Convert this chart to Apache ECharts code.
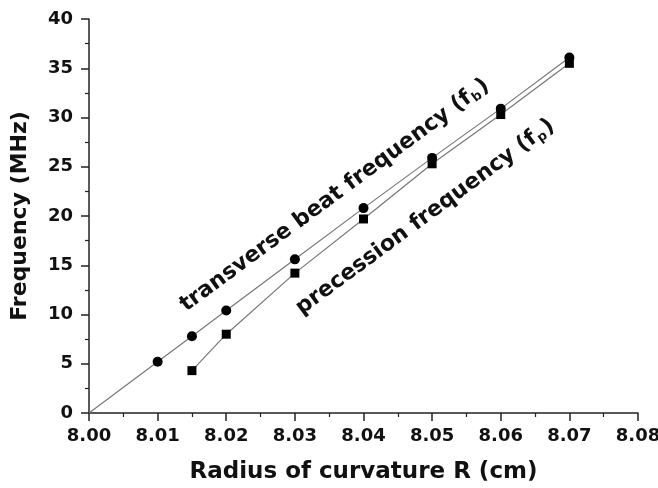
<!DOCTYPE html>
<html>
<head>
<meta charset="utf-8">
<script src="https://cdn.jsdelivr.net/npm/echarts@6/dist/echarts.min.js"></script>
<style>
  html, body { margin: 0; padding: 0; background: #fff; }
  #chart { width: 658px; height: 488px; }
</style>
</head>
<body>
<div id="chart"></div>
<script>
// radius of curvature (cm) and frequencies (MHz)
const radiusFb = [8.00, 8.01, 8.015, 8.02, 8.03, 8.04, 8.05, 8.06, 8.07];
const beatFreq = [0, 5.2, 7.8, 10.4, 15.6, 20.8, 25.9, 30.9, 36.1];
const radiusFp = [8.015, 8.02, 8.03, 8.04, 8.05, 8.06, 8.07];
const precFreq = [4.3, 8.0, 14.2, 19.7, 25.3, 30.3, 35.5];

// where the rotated labels sit, in data units
const beatLabelAt = [8.0358, 22.1];
const precLabelAt = [8.0490, 19.9];

const FONT = '"DejaVu Sans", sans-serif';

let myChart = echarts.init(document.getElementById('chart'));

let option = {
  animation: false,
  backgroundColor: '#fff',
  grid: { left: 89, right: 20, top: 19, bottom: 75, outerBoundsMode: 'none', containLabel: false },
  xAxis: {
    type: 'value',
    min: 8.00,
    max: 8.08,
    interval: 0.01,
    name: 'Radius of curvature R (cm)',
    nameLocation: 'middle',
    nameGap: 48,
    nameTextStyle: { fontFamily: FONT, fontWeight: 'bold', fontSize: 23, color: '#111' },
    axisLine: { onZero: false, lineStyle: { color: '#222', width: 1.5 } },
    axisTick: { inside: false, length: 8, lineStyle: { color: '#222', width: 1.5 } },
    minorTick: { show: true, splitNumber: 2, length: 4, lineStyle: { color: '#222', width: 1.2 } },
    splitLine: { show: false },
    axisLabel: {
      margin: 14,
      fontFamily: FONT, fontWeight: 'bold', fontSize: 18, color: '#111',
      formatter: function (v) { return v.toFixed(2); }
    }
  },
  yAxis: {
    type: 'value',
    min: 0,
    max: 40,
    interval: 5,
    name: 'Frequency (MHz)',
    nameLocation: 'middle',
    nameGap: 58,
    nameTextStyle: { fontFamily: FONT, fontWeight: 'bold', fontSize: 22, color: '#111' },
    axisLine: { onZero: false, lineStyle: { color: '#222', width: 1.5 } },
    axisTick: { inside: false, length: 8, lineStyle: { color: '#222', width: 1.5 } },
    minorTick: { show: true, splitNumber: 2, length: 4, lineStyle: { color: '#222', width: 1.2 } },
    splitLine: { show: false },
    axisLabel: {
      margin: 16,
      fontFamily: FONT, fontWeight: 'bold', fontSize: 18, color: '#111'
    }
  },
  series: [
    {
      name: 'fb',
      type: 'line',
      data: radiusFb.map(function (r, i) {
        // the first point is the origin of the fit line, drawn without a marker
        return i === 0 ? { value: [r, beatFreq[i]], symbolSize: 0 } : [r, beatFreq[i]];
      }),
      symbol: 'circle',
      symbolSize: 10,
      itemStyle: { color: '#000' },
      lineStyle: { color: '#777', width: 1.2 }
    },
    {
      name: 'fp',
      type: 'line',
      data: radiusFp.map(function (r, i) { return [r, precFreq[i]]; }),
      symbol: 'rect',
      symbolSize: 9,
      itemStyle: { color: '#000' },
      lineStyle: { color: '#777', width: 1.2 }
    }
  ]
};
myChart.setOption(option);

// rotated annotations, placed through the chart's own coordinate system
function angleOf(xs, ys, a, b) {
  let p1 = myChart.convertToPixel({ gridIndex: 0 }, [xs[a], ys[a]]);
  let p2 = myChart.convertToPixel({ gridIndex: 0 }, [xs[b], ys[b]]);
  return Math.atan2(p1[1] - p2[1], p2[0] - p1[0]);
}
let rot = angleOf(radiusFb, beatFreq, 4, 8);
let richStyle = {
  n: { fontFamily: FONT, fontWeight: 'bold', fontSize: 22, fill: '#111' },
  s: { fontFamily: FONT, fontWeight: 'bold', fontSize: 13, fill: '#111', verticalAlign: 'bottom', padding: [10, 1, 0, 1] }
};
let pB = myChart.convertToPixel({ gridIndex: 0 }, beatLabelAt);
let pP = myChart.convertToPixel({ gridIndex: 0 }, precLabelAt);
myChart.setOption({
  graphic: [
    {
      type: 'text',
      x: pB[0], y: pB[1],
      rotation: rot,
      style: {
        text: '{n|transverse beat frequency (f}{s|b}{n|)}',
        rich: richStyle,
        align: 'center',
        verticalAlign: 'middle',
        fill: '#111'
      }
    },
    {
      type: 'text',
      x: pP[0], y: pP[1],
      rotation: rot,
      style: {
        text: '{n|precession frequency (f}{s|p}{n|)}',
        rich: richStyle,
        align: 'center',
        verticalAlign: 'middle',
        fill: '#111'
      }
    }
  ]
});
</script>
</body>
</html>
